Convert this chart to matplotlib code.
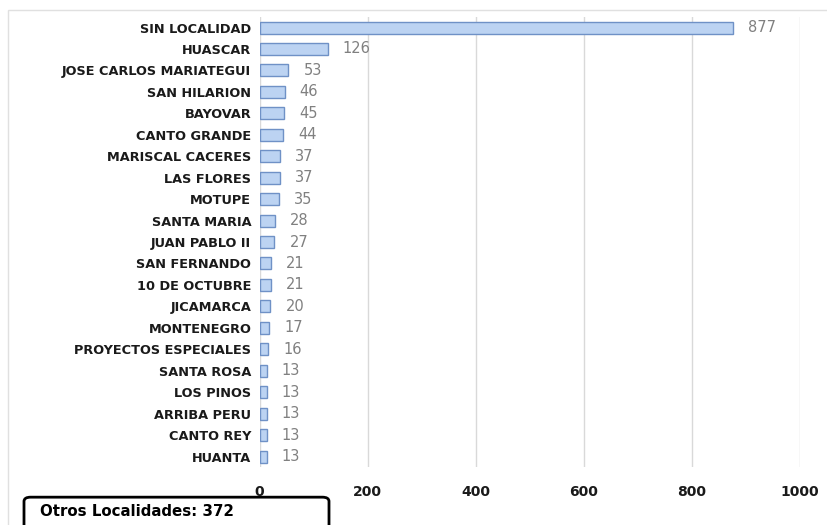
import matplotlib.pyplot as plt
from matplotlib.patches import FancyBboxPatch, Rectangle

localidades = ['SIN LOCALIDAD', 'HUASCAR', 'JOSE CARLOS MARIATEGUI', 'SAN HILARION',
               'BAYOVAR', 'CANTO GRANDE', 'MARISCAL CACERES', 'LAS FLORES', 'MOTUPE',
               'SANTA MARIA', 'JUAN PABLO II', 'SAN FERNANDO', '10 DE OCTUBRE',
               'JICAMARCA', 'MONTENEGRO', 'PROYECTOS ESPECIALES', 'SANTA ROSA',
               'LOS PINOS', 'ARRIBA PERU', 'CANTO REY', 'HUANTA']
cantidades = [877, 126, 53, 46, 45, 44, 37, 37, 35, 28, 27, 21, 21, 20, 17, 16,
              13, 13, 13, 13, 13]
x_ticks = [0, 200, 400, 600, 800, 1000]
otros = 372


def main():
    fig = plt.figure(figsize=(8.27, 5.25), dpi=100)
    ax = fig.add_axes([0.314, 0.110, 0.653, 0.858])

    pos = list(range(len(localidades)))
    ax.barh(pos, cantidades, height=0.56, color='#bcd3f2', edgecolor='#6f91c6',
            linewidth=1.0, zorder=3)
    for p, v in zip(pos, cantidades):
        ax.text(v + 28, p, str(v), va='center', ha='left', fontsize=10.5,
                color='#808080', zorder=4)

    ax.set_xlim(0, 1000)
    ax.set_ylim(len(localidades) - 0.5, -0.5)
    ax.set_yticks(pos)
    ax.set_yticklabels(localidades, fontsize=9.3, fontweight='bold', color='#1a1a1a')
    ax.set_xticks(x_ticks)
    ax.set_xticklabels([str(t) for t in x_ticks], fontsize=10, fontweight='bold',
                       color='#1a1a1a')
    ax.tick_params(axis='both', length=0)
    ax.tick_params(axis='x', pad=13)
    ax.tick_params(axis='y', pad=6)
    ax.grid(axis='x', color='#d9d9d9', linewidth=1.0, zorder=0)
    for s in ax.spines.values():
        s.set_visible(False)

    # marco exterior claro
    fig.patches.append(Rectangle((8 / 827, -0.02), 1.1, 1 - 10 / 525 + 0.02,
                                 transform=fig.transFigure, fill=False,
                                 edgecolor='#e0e0e0', linewidth=1.0))
    # cuadro "Otros Localidades"
    fig.patches.append(FancyBboxPatch((24 / 827, -0.03), 305 / 827, 0.083,
                                      boxstyle='round,pad=0,rounding_size=0.008',
                                      transform=fig.transFigure, fill=False,
                                      edgecolor='black', linewidth=2.0))
    fig.text(40 / 827, 1 - 512 / 525, f'Otros Localidades: {otros}',
             fontsize=10.8, fontweight='bold', va='center', ha='left')

    fig.savefig('out.png', dpi=100)


if __name__ == '__main__':
    main()
